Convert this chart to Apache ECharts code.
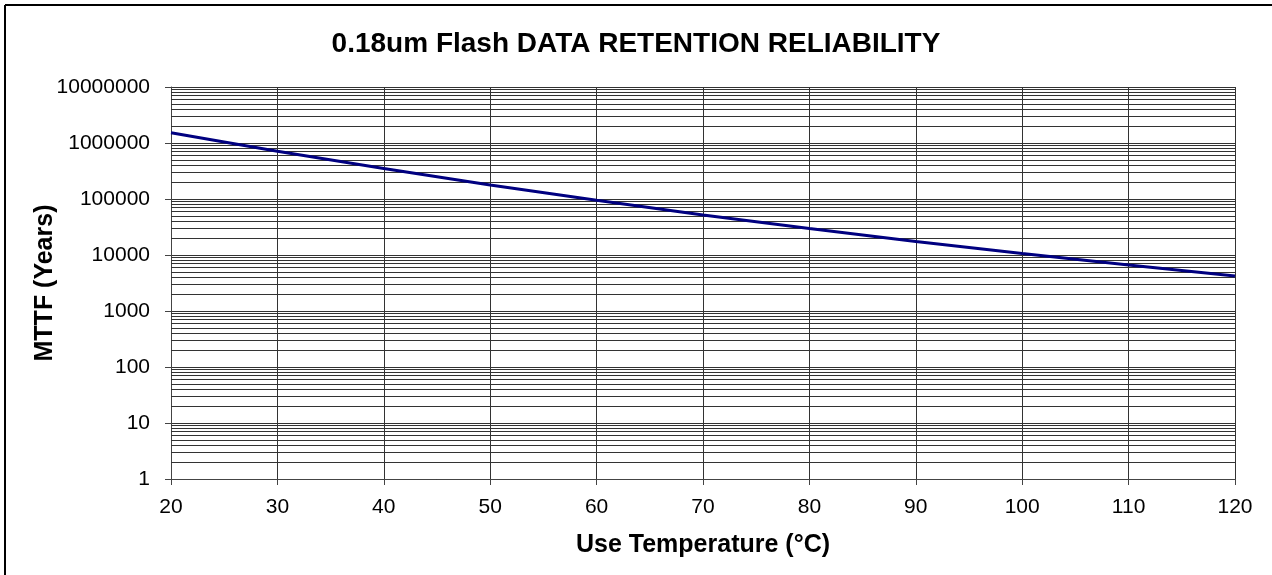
<!DOCTYPE html>
<html>
<head>
<meta charset="utf-8">
<script src="https://cdn.jsdelivr.net/npm/echarts@6/dist/echarts.min.js"></script>
<style>
  html, body { margin: 0; padding: 0; background: #fff; }
  #chart { width: 1272px; height: 575px; }
</style>
</head>
<body>
<div id="chart"></div>
<script>
// Use temperature (°C) and mean time to failure (years)
const temperatures = [20, 30, 40, 50, 60, 70, 80, 90, 100, 110, 120];
const mttfYears = [1530000, 715000, 350000, 178000, 95000, 52000, 29800, 17500, 10600, 6600, 4200];

// Log-axis decades and the in-decade multipliers for the fine gridlines
const decadeExponents = [0, 1, 2, 3, 4, 5, 6];
const minorMultipliers = [2, 3, 4, 5, 6, 7, 8, 9];

const titleText = '0.18um Flash DATA RETENTION RELIABILITY';
const xName = 'Use Temperature (°C)';
const yName = 'MTTF (Years)';

const FONT = '"Liberation Sans", Arial, Helvetica, sans-serif';

const minorLines = [];
decadeExponents.forEach(function (e) {
  minorMultipliers.forEach(function (m) {
    minorLines.push({ yAxis: m * Math.pow(10, e) });
  });
});

const chart = echarts.init(document.getElementById('chart'), null, { renderer: 'canvas' });

chart.setOption({
  animation: false,
  backgroundColor: '#ffffff',
  title: {
    text: titleText,
    left: 'center',
    top: 25,
    textStyle: { fontFamily: FONT, fontSize: 28, fontWeight: 'bold', color: '#000' }
  },
  graphic: [
    { type: 'line', shape: { x1: 5, y1: 5, x2: 1272, y2: 5 }, style: { stroke: '#000', lineWidth: 2 } },
    { type: 'line', shape: { x1: 5, y1: 5, x2: 5, y2: 575 }, style: { stroke: '#000', lineWidth: 2 } }
  ],
  grid: { left: 171, right: 37, top: 87, bottom: 96, containLabel: false },
  xAxis: {
    type: 'value',
    min: 20,
    max: 120,
    interval: 10,
    name: xName,
    nameLocation: 'middle',
    nameGap: 54,
    nameMoveOverlap: false,
    nameTextStyle: { fontFamily: FONT, fontSize: 25, fontWeight: 'bold', color: '#000' },
    axisLine: { show: true, lineStyle: { color: '#444', width: 1 } },
    axisTick: { show: true, inside: false, length: 6, lineStyle: { color: '#444' } },
    axisLabel: { fontFamily: FONT, fontSize: 21, color: '#000', margin: 18 },
    splitLine: { show: true, lineStyle: { color: '#333', width: 1 } }
  },
  yAxis: {
    type: 'log',
    logBase: 10,
    min: 1,
    max: 10000000,
    name: yName,
    nameLocation: 'middle',
    nameRotate: 90,
    nameGap: 113,
    nameMoveOverlap: false,
    nameTextStyle: { fontFamily: FONT, fontSize: 25, fontWeight: 'bold', color: '#000' },
    axisLine: { show: true, lineStyle: { color: '#444', width: 1 } },
    axisTick: { show: true, inside: false, length: 6, lineStyle: { color: '#444' } },
    axisLabel: {
      fontFamily: FONT, fontSize: 21, color: '#000', margin: 21,
      formatter: function (v) { return String(Math.round(v)); }
    },
    splitLine: { show: true, lineStyle: { color: '#333', width: 1 } },
    minorTick: { show: false },
    minorSplitLine: { show: false }
  },
  series: [{
    type: 'line',
    data: temperatures.map(function (t, i) { return [t, mttfYears[i]]; }),
    showSymbol: false,
    symbol: 'none',
    lineStyle: { color: '#000080', width: 3 },
    z: 5,
    markLine: {
      silent: true,
      symbol: ['none', 'none'],
      label: { show: false },
      lineStyle: { color: '#333', width: 1, type: 'solid' },
      emphasis: { disabled: true },
      data: minorLines,
      z: 1
    }
  }]
});
</script>
</body>
</html>
